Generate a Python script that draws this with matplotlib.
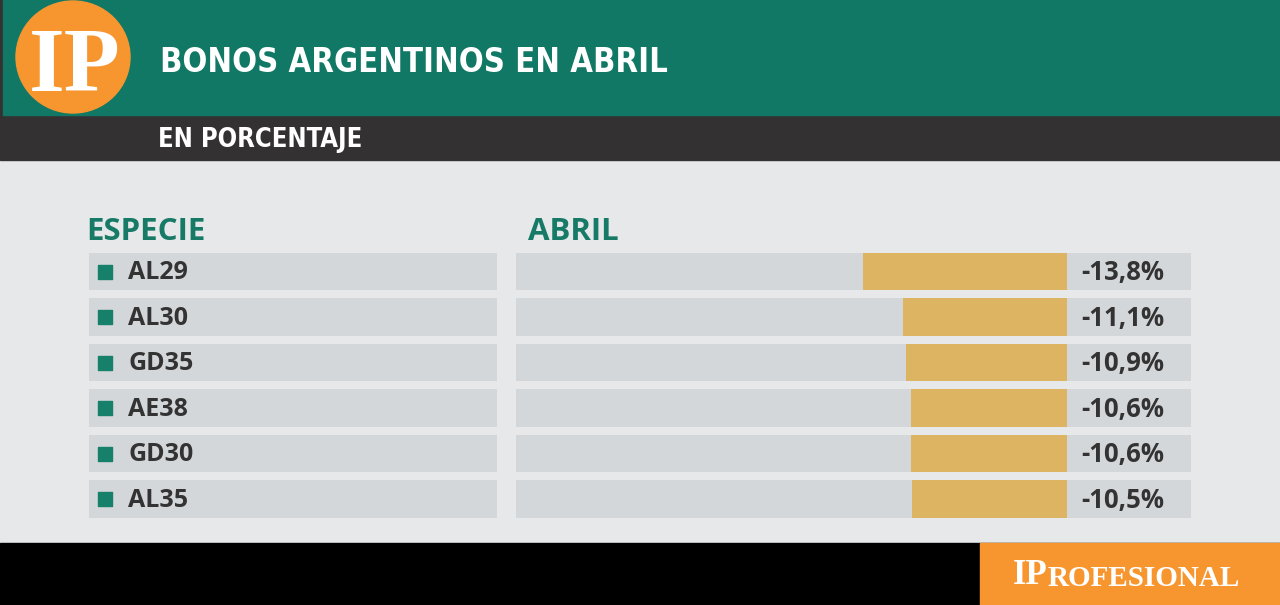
import matplotlib
matplotlib.use("Agg")
import numpy as np
import matplotlib.pyplot as plt
from matplotlib.patches import Rectangle, Ellipse

# data
especies = ["AL29", "AL30", "GD35", "AE38", "GD30", "AL35"]
abril = [-13.8, -11.1, -10.9, -10.6, -10.6, -10.5]
etiquetas = ["-13,8%", "-11,1%", "-10,9%", "-10,6%", "-10,6%", "-10,5%"]

titulo = "BONOS ARGENTINOS EN ABRIL"
subtitulo = "EN PORCENTAJE"

TEAL = "#117865"
DARK = "#343133"
BG = "#e6e8e9"
BOX = "#d4d7d9"
GOLD = "#dcb462"
ORANGE = "#f7962f"
TXT = "#333333"

W, H = 1280, 605
fig = plt.figure(figsize=(12.8, 6.05), dpi=100)
fig.patch.set_facecolor(BG)

bg = fig.add_axes([0, 0, 1, 1])
bg.set_xlim(0, W)
bg.set_ylim(H, 0)
bg.axis("off")

# header bands
bg.add_patch(Rectangle((0, 0), W, 160, color=DARK, zorder=1))
bg.add_patch(Rectangle((3, 0), W, 115, color=TEAL, zorder=2))
bg.add_patch(Ellipse((73, 57), 114, 112, color=ORANGE, zorder=3))
bg.text(75, 91, "IP", color="white", fontsize=66, fontweight="bold",
        family="Liberation Serif", ha="center", va="baseline", zorder=4)
bg.text(160, 62, titulo, color="white", fontsize=23.5, fontweight="bold",
        family="DejaVu Sans", fontstretch="condensed", ha="left", va="center", zorder=4)
bg.text(158, 140, subtitulo, color="white", fontsize=18.4, fontweight="bold",
        family="DejaVu Sans", fontstretch="condensed", ha="left", va="center", zorder=4)

# footer
bg.add_patch(Rectangle((0, 543), W, 62, color="black", zorder=1))
bg.add_patch(Rectangle((980, 543), 300, 62, color=ORANGE, zorder=2))
t1 = bg.text(1013, 584, "IP", color="white", fontsize=25, fontweight="bold",
             family="Liberation Serif", ha="left", va="baseline", zorder=4)
bg.annotate("ROFESIONAL", xy=(1, 0), xycoords=t1, xytext=(0, 0),
            textcoords="offset points", color="white", fontsize=21,
            fontweight="bold", family="Liberation Serif", ha="left",
            va="bottom", zorder=4)

# column headers
bg.text(86, 232, "ESPECIE", color="#177a66", fontsize=22.5, fontweight="bold",
        family="Open Sans", ha="left", va="center")
bg.text(528, 232, "ABRIL", color="#177a66", fontsize=22.5, fontweight="bold",
        family="Open Sans", ha="left", va="center")

# rows area
top_px, bot_px = 248.75, 521.75
ax_b = 1 - bot_px / H
ax_h = (bot_px - top_px) / H
y = np.arange(len(especies))
bh = 0.835

axl = fig.add_axes([89 / W, ax_b, 408 / W, ax_h])
axl.set_xlim(0, 1)
axl.set_ylim(len(especies) - 0.5, -0.5)
axl.axis("off")
axl.barh(y, 1, left=0, height=bh, color=BOX)
axl.scatter(np.full(len(y), 0.039), y, marker="s", s=95, color="#17806a", zorder=3)
for yi, name in zip(y, especies):
    axl.text(0.096, yi + 0.03, name, color=TXT, fontsize=18, fontweight="bold",
             family="Open Sans", ha="left", va="center")

px_per = 14.75
x0, x1 = (516 - 1067) / px_per, (1191 - 1067) / px_per
axr = fig.add_axes([516 / W, ax_b, 675 / W, ax_h])
axr.set_xlim(x0, x1)
axr.set_ylim(len(especies) - 0.5, -0.5)
axr.axis("off")
axr.barh(y, x1 - x0, left=x0, height=bh, color=BOX)
axr.barh(y, abril, height=bh, color=GOLD, zorder=2)
for yi, lab in zip(y, etiquetas):
    axr.text(1.0, yi + 0.03, lab, color=TXT, fontsize=18.5, fontweight="bold",
             family="Open Sans", ha="left", va="center")

fig.savefig("out.png", dpi=100, facecolor=fig.get_facecolor())
